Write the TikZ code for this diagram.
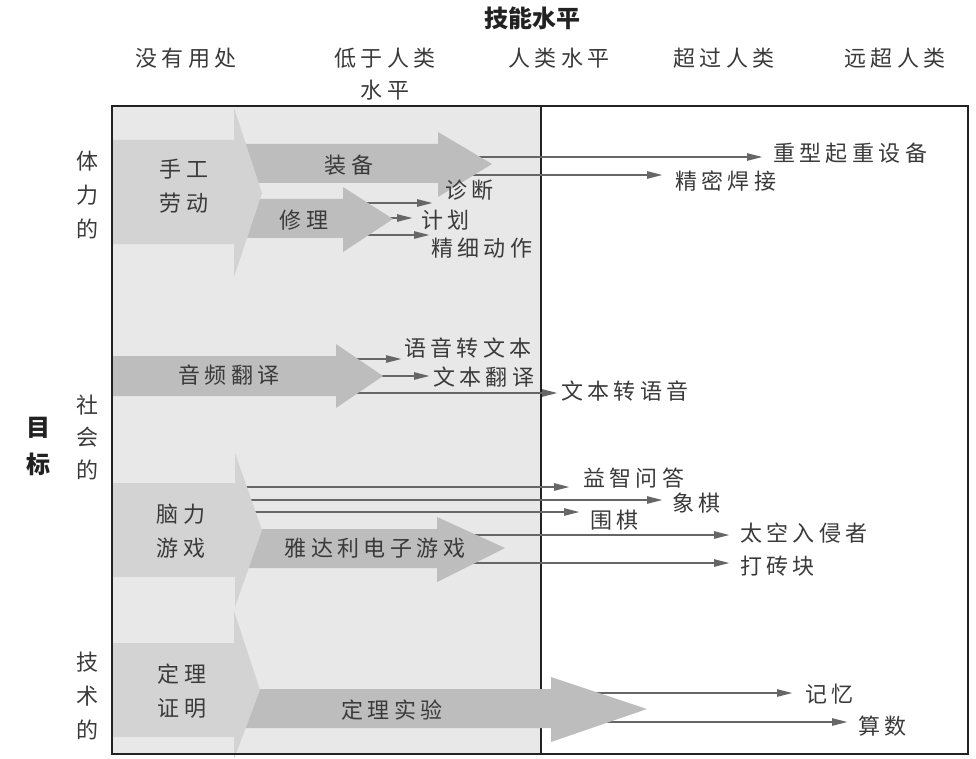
\documentclass[tikz,border=0pt]{standalone}
\usepackage{fontspec}
\newfontfamily\cjk[LetterSpace=20]{Noto Sans CJK SC}
\newfontfamily\cjkb{Noto Sans CJK SC}
\usetikzlibrary{arrows.meta}
\pgfdeclarelayer{bglayer}
\pgfdeclarelayer{linelayer}
\pgfdeclarelayer{arrowlayer}
\pgfsetlayers{bglayer,linelayer,arrowlayer,main}
\definecolor{bgg}{HTML}{E8E8E8}
\definecolor{lite}{HTML}{D3D3D3}
\definecolor{dark}{HTML}{BDBDBD}
\definecolor{lnc}{HTML}{666666}
\definecolor{txt}{HTML}{3A3A3A}
\definecolor{frm}{HTML}{222222}
\begin{document}
\begin{tikzpicture}[x=1pt,y=-1pt,
  lbl/.style={font=\cjk\fontsize{22}{34}\selectfont, text=txt, inner sep=0pt, align=center},
  ttl/.style={font=\cjkb\bfseries\fontsize{24}{37}\selectfont, text=frm, inner sep=0pt, align=center},
  conn/.style={draw=lnc, line width=2.5pt, -{Triangle[length=16pt,width=7pt]}},
  litearrow/.style={fill=lite},
  darkarrow/.style={fill=dark}]
\useasboundingbox (0,0) rectangle (976,759);
% background
\begin{pgfonlayer}{bglayer}
\fill[bgg] (112,106) rectangle (541,754);
\draw[line width=2pt, draw=frm] (541,106) -- (541,754);
\end{pgfonlayer}

% titles and headers
\node[ttl] (title) at (532,18) {技能水平};
\node[lbl] (h1) at (186,58) {没有用处};
\node[lbl, font=\cjk\fontsize{22}{32}\selectfont] (h2) at (385,74) {低于人类\\水平};
\node[lbl] (h3) at (559,58) {人类水平};
\node[lbl] (h4) at (724,58) {超过人类};
\node[lbl] (h5) at (895,58) {远超人类};
\node[ttl] (goal) at (38,446) {目\\标};
\node[lbl] (r1) at (87,195) {体\\力\\的};
\node[lbl, font=\cjk\fontsize{22}{32.5}\selectfont] (r2) at (87,437) {社\\会\\的};
\node[lbl] (r3) at (87,696) {技\\术\\的};

% target labels
\node[lbl, anchor=west] (zx) at (773,153) {重型起重设备};
\node[lbl, anchor=west] (jm) at (675,181) {精密焊接};
\node[lbl, anchor=west] (zd) at (445,190) {诊断};
\node[lbl, anchor=west] (jh) at (421,220) {计划};
\node[lbl, anchor=west] (jx) at (431,248) {精细动作};
\node[lbl, anchor=west] (yy) at (404,348) {语音转文本};
\node[lbl, anchor=west] (wb) at (433,377) {文本翻译};
\node[lbl, anchor=west] (wz) at (561,391) {文本转语音};
\node[lbl, anchor=west] (yz) at (583,478) {益智问答};
\node[lbl, anchor=west] (xq) at (672,503) {象棋};
\node[lbl, anchor=west] (wq) at (590,520) {围棋};
\node[lbl, anchor=west] (tk) at (740,533) {太空入侵者};
\node[lbl, anchor=west] (dz) at (740,566) {打砖块};
\node[lbl, anchor=west] (jy) at (805,694) {记忆};
\node[lbl, anchor=west] (ss) at (858,726) {算数};

% connector starts (hidden behind the big arrows)
\coordinate (s1) at (470,157);
\coordinate (s2) at (465,175);
\coordinate (s3) at (360,203);
\coordinate (s4) at (385,218);
\coordinate (s5) at (360,235);
\coordinate (s6) at (350,359);
\coordinate (s7) at (375,376);
\coordinate (s8) at (350,393);
\coordinate (s9) at (240,487);
\coordinate (s10) at (240,500);
\coordinate (s11) at (240,512);
\coordinate (s12) at (465,535);
\coordinate (s13) at (465,563);
\coordinate (s14) at (595,693);
\coordinate (s15) at (595,722);

\begin{pgfonlayer}{linelayer}
\draw[conn, shorten >=10pt] (s1) -- (s1 -| zx.west);
\draw[conn, shorten >=12pt] (s2) -- (s2 -| jm.west);
\draw[conn, shorten >=12pt] (s3) -- (s3 -| zd.west);
\draw[conn, shorten >=8pt] (s4) -- (s4 -| jh.west);
\draw[conn, shorten >=1pt] (s5) -- (s5 -| jx.west);
\draw[conn, shorten >=2pt] (s6) -- (s6 -| yy.west);
\draw[conn, shorten >=3pt] (s7) -- (s7 -| wb.west);
\draw[conn, shorten >=3pt] (s8) -- (s8 -| wz.west);
\draw[conn, shorten >=13pt] (s9) -- (s9 -| yz.west);
\draw[conn, shorten >=9pt] (s10) -- (s10 -| xq.west);
\draw[conn, shorten >=10pt] (s11) -- (s11 -| wq.west);
\draw[conn, shorten >=10pt] (s12) -- (s12 -| tk.west);
\draw[conn, shorten >=10pt] (s13) -- (s13 -| dz.west);
\draw[conn, shorten >=12pt] (s14) -- (s14 -| jy.west);
\draw[conn, shorten >=10pt] (s15) -- (s15 -| ss.west);
\end{pgfonlayer}

\begin{pgfonlayer}{arrowlayer}
% dark arrows
\fill[darkarrow] (236,144) -- (438,144) -- (438,132) -- (492,164) -- (438,197) -- (438,183) -- (236,183) -- cycle;
\fill[darkarrow] (236,199) -- (343,199) -- (343,187) -- (393,219) -- (343,252) -- (343,238) -- (236,238) -- cycle;
\fill[darkarrow] (112,356) -- (336,356) -- (336,344) -- (383,376) -- (336,408) -- (336,396) -- (112,396) -- cycle;
\fill[darkarrow] (236,529) -- (437,529) -- (437,517) -- (505,548) -- (437,582) -- (437,568) -- (236,568) -- cycle;
\fill[darkarrow] (236,689) -- (551,689) -- (551,677) -- (647,709) -- (551,742) -- (551,728) -- (236,728) -- cycle;
% light arrows
\fill[litearrow] (112,140) -- (234,140) -- (234,108) -- (262,193) -- (234,277) -- (234,244) -- (112,244) -- cycle;
\fill[litearrow] (112,483) -- (235,483) -- (235,453) -- (262,530) -- (235,607) -- (235,577) -- (112,577) -- cycle;
\fill[litearrow] (112,643) -- (234,643) -- (234,611) -- (260,690) -- (234,759) -- (234,737) -- (112,737) -- cycle;
\end{pgfonlayer}

% arrow texts
\node[lbl] (sg) at (184,186) {手工\\劳动};
\node[lbl] (zb) at (349,165) {装备};
\node[lbl] (xl) at (304,220) {修理};
\node[lbl] (yp) at (229,375) {音频翻译};
\node[lbl] (nl) at (181,531) {脑力\\游戏};
\node[lbl] (ydl) at (375,548) {雅达利电子游戏};
\node[lbl] (dlzm) at (182,691) {定理\\证明};
\node[lbl] (dlsy) at (392,710) {定理实验};

% frame
\draw[line width=2pt, draw=frm] (112,106) rectangle (968,754);
\end{tikzpicture}
\end{document}
